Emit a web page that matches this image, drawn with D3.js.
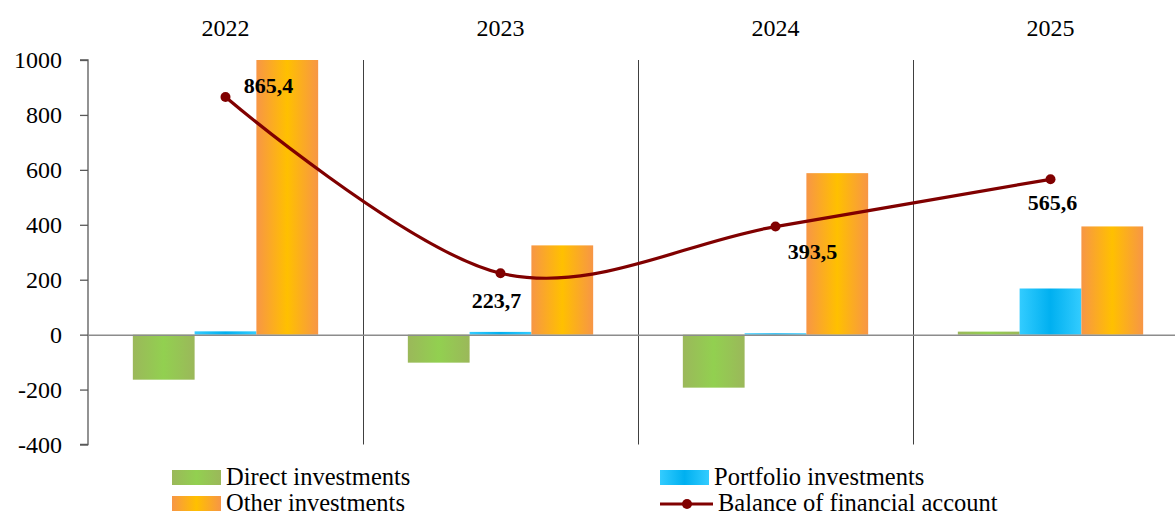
<!DOCTYPE html>
<html><head><meta charset="utf-8">
<script src="https://cdn.jsdelivr.net/npm/d3@7"></script>
<style>
body{margin:0;background:#fff;}
text{font-family:"Liberation Serif","Times New Roman",serif;}
</style></head>
<body><svg id="c" width="1175" height="517"></svg>
<script>
const years = ["2022","2023","2024","2025"];
const direct = [-164, -102, -193, 11];
const portfolio = [12, 10, 5, 168];
const other = [1000, 325, 588, 394];
const balance = [865.4, 223.7, 393.5, 565.6];
const balanceLabels = ["865,4","223,7","393,5","565,6"];
const yTicks = [-400,-200,0,200,400,600,800,1000];
const seriesNames = ["Direct investments","Portfolio investments","Other investments","Balance of financial account"];

const svg = d3.select("#c");
const plotL = 88, plotT = 60, plotB = 444.5, bandW = 275;
const x = d3.scaleBand().domain(years).range([plotL, plotL + bandW*years.length]).paddingInner(0).paddingOuter(0);
const y = d3.scaleLinear().domain([-400,1000]).range([plotB, plotT]);
const xs = d3.scaleBand().domain([0,1,2]).range([0, bandW]).paddingOuter(45/62).paddingInner(0);

const defs = svg.append("defs");
function grad(id, edge, mid){
  const g = defs.append("linearGradient").attr("id",id).attr("x1","0%").attr("x2","100%").attr("y1","0%").attr("y2","0%");
  g.append("stop").attr("offset","0%").attr("stop-color",edge);
  g.append("stop").attr("offset","50%").attr("stop-color",mid);
  g.append("stop").attr("offset","100%").attr("stop-color",edge);
}
grad("gGreen","#9bb85a","#92d050");
grad("gBlue","#33ccff","#00b0f0");
grad("gOrange","#f79646","#ffc000");
const fills = ["url(#gGreen)","url(#gBlue)","url(#gOrange)"];

// dividers
svg.append("g").selectAll("line").data(years.slice(1)).join("line")
  .attr("x1",d=>Math.round(x(d))+0.5).attr("x2",d=>Math.round(x(d))+0.5)
  .attr("y1",plotT).attr("y2",plotB).attr("stroke","#404040").attr("stroke-width",1);

// y axis
const ya = svg.append("g").attr("transform",`translate(${plotL},0)`)
  .call(d3.axisLeft(y).tickValues(yTicks).tickSize(8).tickPadding(18).tickFormat(d=>String(d)));
ya.select(".domain").attr("stroke","#595959").attr("stroke-width",1.3).attr("d",`M-8,${plotT}H0V${plotB}H-8`);
ya.selectAll(".tick line").attr("stroke","#595959").attr("stroke-width",1.3);
ya.selectAll(".tick text").attr("font-size",24).attr("fill","#000").style("font-family","Liberation Serif");

// bars
const seriesVals = [direct, portfolio, other];
const bars = svg.append("g");
seriesVals.forEach((vals,si)=>{
  bars.selectAll(null).data(vals).join("rect")
    .attr("x",(d,i)=>x(years[i])+xs(si))
    .attr("width",xs.bandwidth())
    .attr("y",d=>y(Math.max(0,d)))
    .attr("height",d=>Math.abs(y(d)-y(0)))
    .attr("fill",fills[si]);
});

// zero line
svg.append("line").attr("x1",plotL).attr("x2",1175).attr("y1",y(0)+0.5).attr("y2",y(0)+0.5)
  .attr("stroke","#8c8c8c").attr("stroke-width",1.5);

// year labels
svg.append("g").selectAll("text").data(years).join("text")
  .attr("x",d=>x(d)+bandW/2).attr("y",36).attr("text-anchor","middle")
  .attr("font-size",24).attr("fill","#000").text(d=>d);

// balance line
const pts = balance.map((v,i)=>[x(years[i])+bandW/2, y(v)]);
svg.append("path").attr("d",d3.line().curve(d3.curveCardinal.tension(0))(pts))
  .attr("fill","none").attr("stroke","#800000").attr("stroke-width",3.2);
svg.append("g").selectAll("circle").data(pts).join("circle")
  .attr("cx",d=>d[0]).attr("cy",d=>d[1]).attr("r",5).attr("fill","#800000");

// labels
const lblOff = [[43,-4],[-4,35],[37,32],[2,31]];
svg.append("g").selectAll("text").data(pts).join("text")
  .attr("x",(d,i)=>d[0]+lblOff[i][0]).attr("y",(d,i)=>d[1]+lblOff[i][1])
  .attr("text-anchor","middle").attr("font-size",22).attr("font-weight","bold").attr("fill","#000")
  .text((d,i)=>balanceLabels[i]);

// legend
const leg = svg.append("g");
const legPos = [[172,478],[660,478],[172,504],[660,504]];
const legFill = ["url(#gGreen)","url(#gBlue)","url(#gOrange)",null];
seriesNames.forEach((n,i)=>{
  const [lx,ly] = legPos[i];
  if(legFill[i]){
    leg.append("rect").attr("x",lx).attr("y",ly-8).attr("width",49).attr("height",15).attr("fill",legFill[i]);
  } else {
    leg.append("line").attr("x1",lx).attr("x2",lx+53).attr("y1",ly).attr("y2",ly).attr("stroke","#800000").attr("stroke-width",3.2);
    leg.append("circle").attr("cx",lx+27).attr("cy",ly).attr("r",5).attr("fill","#800000");
  }
  leg.append("text").attr("x",lx+(legFill[i]?54:58)).attr("y",ly+7).attr("font-size",24.5).attr("fill","#000").text(n);
});
</script></body></html>
